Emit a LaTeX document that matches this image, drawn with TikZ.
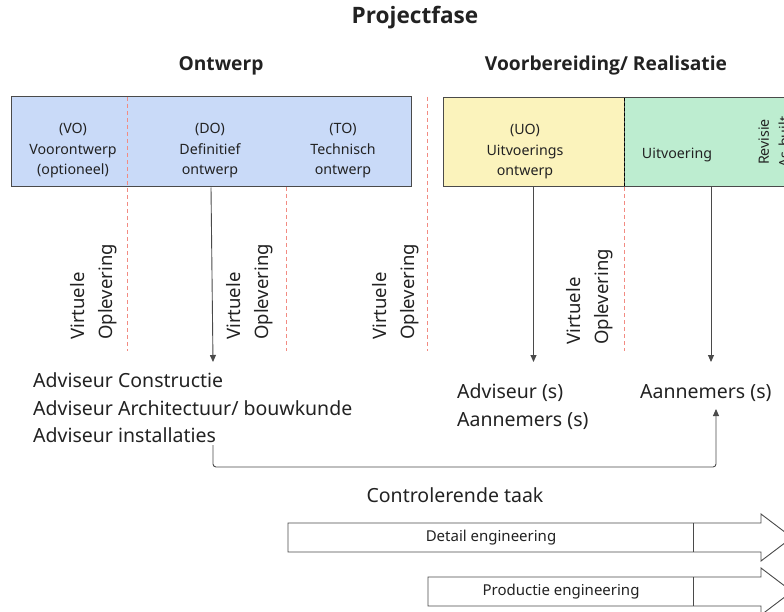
\documentclass[tikz,border=0pt]{standalone}
\usepackage{fontspec}
\setmainfont{Noto Sans}
\newfontfamily\hbold{Open Sans}
\usetikzlibrary{arrows.meta}
\definecolor{blueF}{HTML}{C9DAF8}
\definecolor{yellowF}{HTML}{FBF3BC}
\definecolor{greenF}{HTML}{BDEDD0}
\definecolor{redD}{HTML}{F28B82}
\definecolor{lineC}{HTML}{4A4A4A}
\definecolor{textC}{HTML}{222222}
\begin{document}
\begin{tikzpicture}[x=1pt,y=-1pt,
  box/.style={draw=lineC, line width=1pt, inner sep=0pt},
  boxtxt/.style={font=\fontsize{14.2}{20.5}\selectfont, text=textC, align=center, inner sep=0pt},
  vlab/.style={rotate=90, anchor=west, align=left, font=\fontsize{18.5}{28}\selectfont, text=textC, inner sep=0pt},
  sepline/.style={draw=redD, dash pattern=on 4pt off 3pt, line width=0.9pt},
  conn/.style={draw=lineC, line width=0.9pt, -{Triangle[length=7pt,width=6pt]}},
  big/.style={font=\fontsize{19.5}{23}\selectfont, text=textC, inner sep=0pt, anchor=west},
  head/.style={font=\hbold\bfseries\fontsize{19.2}{23}\selectfont, text=textC, inner sep=0pt},
  eng/.style={draw=lineC, line width=0.9pt, fill=white},
  engtxt/.style={font=\fontsize{15}{18}\selectfont, text=textC, inner sep=0pt}
]
\useasboundingbox (0,0) rectangle (784,612);
\clip (0,0) rectangle (784,612);

% titles
\node[font=\hbold\bfseries\fontsize{22.6}{27}\selectfont, text=textC, inner sep=0pt] (title) at (415,18) {Projectfase};
\node[head] (hOntwerp) at (221,66) {Ontwerp};
\node[head] (hVoorb) at (606,66) {Voorbereiding/ Realisatie};

% boxes
\node[box, fill=blueF, minimum width=400pt, minimum height=90pt] (ontw) at (211,142) {};
\node[box, fill=yellowF, minimum width=181pt, minimum height=89pt] (uo) at (533.5,142.5) {};
\node[box, fill=greenF, minimum width=176pt, minimum height=89pt] (uitv) at (712,142.5) {};
\draw[black, dash pattern=on 3pt off 2pt, line width=0.9pt] (624,98) -- (624,187);

\node[boxtxt] (tVO) at (73,151) {(VO)\\Voorontwerp\\(optioneel)};
\node[boxtxt] (tDO) at (210,151) {(DO)\\Definitief\\ontwerp};
\node[boxtxt] (tTO) at (343,151) {(TO)\\Technisch\\ontwerp};
\node[boxtxt] (tUO) at (525,152) {(UO)\\Uitvoerings\\ontwerp};
\node[boxtxt] (tUitv) at (677,155) {Uitvoering};
\node[boxtxt, rotate=90] (tRev) at (774,142) {Revisie\\As-built};

% separators
\draw[sepline] (127,97) -- (127,351);
\draw[sepline] (286,187) -- (286,351);
\draw[sepline] (427,97) -- (427,351);
\draw[sepline] (624,187) -- (624,351);

% virtuele oplevering
\node[vlab] (v1) at (93.5,340) {Virtuele\\Oplevering};
\node[vlab] (v2) at (249.5,340) {Virtuele\\Oplevering};
\node[vlab] (v3) at (395.5,340) {Virtuele\\Oplevering};
\node[vlab] (v4) at (590,345) {Virtuele\\Oplevering};

% lower texts
\node[big] (adv1) at (33,380) {Adviseur Constructie};
\node[big] (adv2) at (33,408) {Adviseur Architectuur/ bouwkunde};
\node[big] (adv3) at (33,435) {Adviseur installaties};
\node[big] (advs) at (457,393) {Adviseur (s)};
\node[big] (aanA) at (457,421) {Aannemers (s)};
\node[big] (aanB) at (640,393) {Aannemers (s)};

% arrows down
\coordinate (e1) at (213,362);
\coordinate (e2) at (533.5,362);
\coordinate (s3) at (711,187);
\coordinate (e3) at (711,362);
\draw[conn] (ontw.south) -- (e1);
\draw[conn] (uo.south) -- (e2);
\draw[conn] (s3) -- (e3);

% feedback connector
\coordinate (fs) at (213,445);
\coordinate (fe) at (716,409);
\draw[conn, rounded corners=3pt] (fs) -- (213,467) -- (716,467) -- (fe);

\node[font=\fontsize{19.5}{23}\selectfont, text=textC, inner sep=0pt] (ctrl) at (455,495) {Controlerende taak};

% engineering arrows
\draw[eng] (288,523) -- (761,523) -- (761,514) -- (792,537.5) -- (761,561) -- (761,552) -- (288,552) -- cycle;
\draw[draw=lineC, line width=0.9pt] (693,523) -- (693,552);
\node[engtxt] (det) at (491,537.5) {Detail engineering};

\draw[eng] (428,577) -- (761,577) -- (761,568) -- (792,591.5) -- (761,615) -- (761,606) -- (428,606) -- cycle;
\draw[draw=lineC, line width=0.9pt] (693,577) -- (693,606);
\node[engtxt] (prod) at (561,591.5) {Productie engineering};
\end{tikzpicture}
\end{document}
